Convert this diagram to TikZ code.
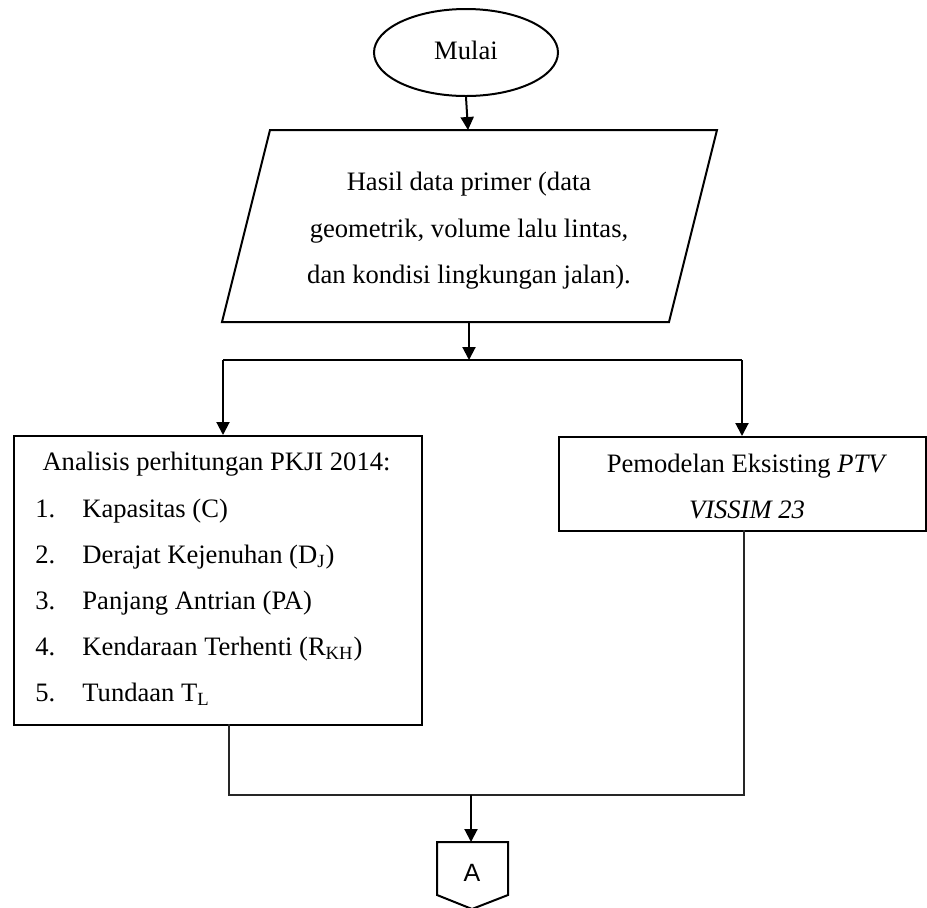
\documentclass[tikz,border=0pt]{standalone}
\usepackage{fontspec}
\setmainfont{Liberation Serif}
\newfontfamily\arialfont{Liberation Sans}
\usetikzlibrary{arrows.meta,shapes.geometric}
\begin{document}
\begin{tikzpicture}[x=0.5pt,y=-0.5pt,
  every node/.style={font=\fontsize{13.3}{16}\selectfont, inner sep=0pt},
  shapeline/.style={draw=black, line width=1pt},
  arrowline/.style={draw=black, line width=1pt, -{Triangle[length=6.5pt,width=6.5pt]}},
  thinline/.style={draw=black!85, line width=0.6pt},
  txt/.style={anchor=base}]
\useasboundingbox (0,0) rectangle (927,907);
% start
\node[shapeline, ellipse, minimum width=92pt, minimum height=43.5pt] (start) at (466,52.5) {};
\node[txt] (starttext) at (466,59) {Mulai};
% parallelogram
\coordinate (dtl) at (270,130);
\coordinate (dtr) at (717,130);
\coordinate (dbr) at (669,322);
\coordinate (dbl) at (222,322);
\draw[shapeline] (dtl) -- (dtr) -- (dbr) -- (dbl) -- cycle;
\coordinate (dtop) at (468,130);
\coordinate (dbot) at (469,322);
\node[txt] (d1) at (469,190) {Hasil data primer (data};
\node[txt] (d2) at (469,237) {geometrik, volume lalu lintas,};
\node[txt] (d3) at (469,283) {dan kondisi lingkungan jalan).};
% junction
\coordinate (jm) at (469,360);
\coordinate (jl) at (223,360);
\coordinate (jr) at (742,360);
% left box
\node[shapeline, minimum width=204pt, minimum height=144.5pt, anchor=north west] (ana) at (13,435) {};
\coordinate (anatop) at (223,435);
\coordinate (anabot) at (229,724);
\node[txt] (anat) at (216.5,470) {Analisis perhitungan PKJI 2014:};
\node[anchor=base west] (n1) at (35,517) {1.};
\node[anchor=base west] (i1) at (82,517) {Kapasitas (C)};
\node[anchor=base west] (n2) at (35,563) {2.};
\node[anchor=base west] (i2) at (82,563) {Derajat Kejenuhan (D\textsubscript{J})};
\node[anchor=base west] (n3) at (35,609) {3.};
\node[anchor=base west] (i3) at (82,609) {Panjang Antrian (PA)};
\node[anchor=base west] (n4) at (35,655) {4.};
\node[anchor=base west] (i4) at (82,655) {Kendaraan Terhenti (R\textsubscript{KH})};
\node[anchor=base west] (n5) at (35,701) {5.};
\node[anchor=base west] (i5) at (82,701) {Tundaan T\textsubscript{L}};
% right box
\node[shapeline, minimum width=183.5pt, minimum height=47pt, anchor=north west] (pem) at (558,436) {};
\coordinate (pemtop) at (742,436);
\coordinate (pembot) at (744,530);
\node[txt] (p1) at (747,472) {Pemodelan Eksisting \textit{PTV}};
\node[txt] (p2) at (747,518) {\textit{VISSIM 23}};
% bottom junction
\coordinate (bl) at (229,795);
\coordinate (br) at (744,795);
\coordinate (bm) at (471,795);
% connector A
\coordinate (cA1) at (437,842);
\coordinate (cA2) at (508,842);
\coordinate (cA3) at (508,895);
\coordinate (cA4) at (472,909);
\coordinate (cA5) at (437,895);
\draw[shapeline] (cA1) -- (cA2) -- (cA3) -- (cA4) -- (cA5) -- cycle;
\coordinate (ctop) at (471,842);
\node[font=\arialfont\fontsize{12.5}{14}\selectfont] (Alabel) at (472,873) {A};
% connectors
\draw[arrowline] (start.south) -- (dtop);
\draw[arrowline] (dbot) -- (jm);
\draw[line width=1pt] (jl) -- (jr);
\draw[arrowline] (jl) -- (anatop);
\draw[arrowline] (jr) -- (pemtop);
\draw[thinline] (anabot) -- (bl) -- (br) -- (pembot);
\draw[arrowline] (bm) -- (ctop);
\end{tikzpicture}
\end{document}
